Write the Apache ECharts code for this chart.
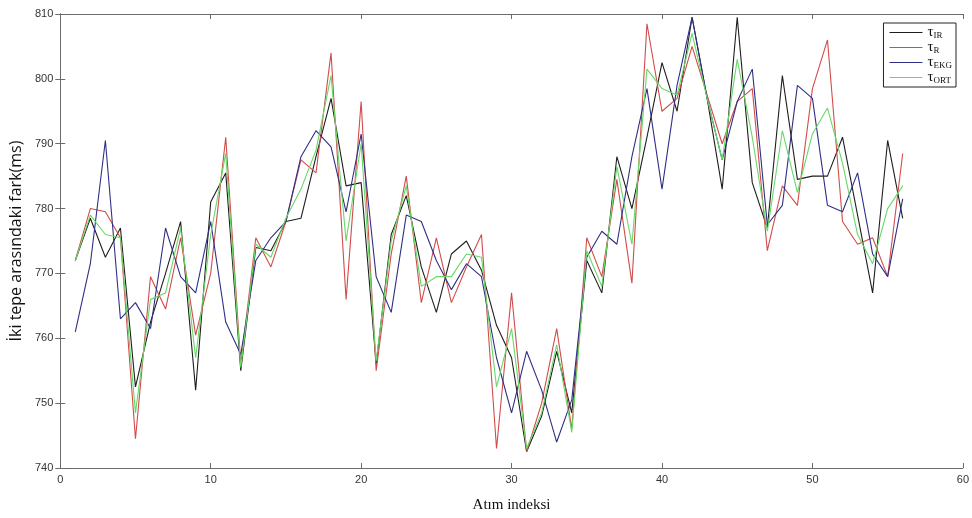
<!DOCTYPE html>
<html>
<head>
<meta charset="utf-8">
<script src="https://cdn.jsdelivr.net/npm/echarts@6/dist/echarts.min.js"></script>
<style>
    html, body { margin: 0; padding: 0; background: #fff; }
    #chart { width: 972px; height: 518px; }
</style>
</head>
<body>
<div id="chart"></div>
<script>
    // atım indeksleri 1..56
    var beats = [];
    for (var i = 1; i <= 56; i++) beats.push(i);

    var tauIR = [772, 778.5, 772.5, 777, 752.5, 762.5, 770, 778, 752, 781,
        785.5, 755, 774, 773.5, 778, 778.5, 788, 797, 783.5, 784,
        756, 776, 782, 771, 764, 773, 775, 770.5, 762, 757,
        742.5, 748, 758, 748.5, 772, 767, 788, 780, 791, 802.5,
        795, 809.5, 797, 783, 809.5, 784, 777, 800.5, 784.5, 785,
        785, 791, 779, 767, 790.5, 778.5];
    var tauR = [772, 780, 779.5, 775.5, 744.5, 769.5, 764.5, 775.5, 760.5, 770,
        791, 756, 775.5, 771, 778, 787.5, 785.5, 804, 766, 796.5,
        755, 773, 785, 765.5, 775.5, 765.5, 771, 776, 743, 767,
        742.5, 750, 761.5, 746, 775.5, 769.5, 784.5, 768.5, 808.5, 795,
        797, 805, 797.5, 790, 796.5, 798.5, 773.5, 783.5, 780.5, 798.5,
        806, 778, 774.5, 775.5, 769.5, 788.5];
    var tauEKG = [761, 771.5, 790.5, 763, 765.5, 761.5, 777, 769.5, 767, 778,
        762.5, 757.5, 772, 775.5, 778, 788, 792, 789.5, 779.5, 791.5,
        769.5, 764, 779, 778, 772, 767.5, 771.5, 769.5, 757, 748.5,
        758, 752, 744, 750.5, 772.5, 776.5, 774.5, 788, 798.5, 783,
        799, 809.5, 797, 787.5, 796.5, 801.5, 777.5, 780.5, 799, 797,
        780.5, 779.5, 785.5, 773, 769.5, 781.5];
    var tauORT = [772, 779, 776, 775.5, 748.5, 766, 767, 777, 757, 776,
        788.5, 755.5, 774.5, 772.5, 778.5, 783, 789, 800.5, 775, 790,
        756.5, 775, 783.5, 768, 769.5, 769.5, 773, 772.5, 752.5, 761.5,
        743, 748.5, 759, 745.5, 773.5, 768, 786.5, 774.5, 801.5, 798.5,
        797.5, 807, 797, 787.5, 803, 791, 776.5, 792, 782.5, 791.5,
        795.5, 787, 776, 771.5, 780, 783.5];

    var seriesNames = ['IR', 'R', 'EKG', 'ORT'];
    var seriesData = [tauIR, tauR, tauEKG, tauORT];
    var colors = ['#1e1e1e', '#d24b4b', '#2f2f85', '#66d966'];

    var myChart = echarts.init(document.getElementById('chart'));

    var axisLine = { show: true, lineStyle: { color: '#6b6b6b', width: 1 } };
    var tick = { show: true, inside: true, length: 5, lineStyle: { color: '#6b6b6b' } };

    myChart.setOption({
        animation: false,
        backgroundColor: '#fff',
        grid: { left: 60, right: 6, top: 14, bottom: 50 },
        legend: {
            orient: 'vertical',
            right: 16,
            top: 23,
            icon: 'rect',
            itemWidth: 33,
            itemHeight: 1.2,
            itemGap: 0,
            padding: [2, 4, 2, 6],
            borderColor: '#222',
            borderWidth: 1,
            backgroundColor: '#fff',
            formatter: function (name) {
                return '{t|τ}{s|' + name + '}';
            },
            textStyle: {
                lineHeight: 15,
                rich: {
                    t: { fontFamily: 'Liberation Serif', fontSize: 15, color: '#111', lineHeight: 15 },
                    s: { fontFamily: 'Liberation Serif', fontSize: 9, color: '#111', verticalAlign: 'bottom', lineHeight: 15, padding: [3, 0, 0, 0] }
                }
            },
            data: seriesNames
        },
        xAxis: [{
            type: 'value',
            min: 0, max: 60, interval: 10,
            name: 'Atım indeksi',
            nameLocation: 'middle',
            nameGap: 30,
            nameTextStyle: { fontFamily: 'Liberation Serif', fontSize: 15, color: '#111' },
            axisLine: axisLine,
            axisTick: tick,
            axisLabel: { color: '#333', fontSize: 11, fontFamily: 'Liberation Sans', margin: 6 },
            splitLine: { show: false }
        }, {
            type: 'value',
            position: 'top',
            min: 0, max: 60, interval: 10,
            axisLine: axisLine,
            axisTick: tick,
            axisLabel: { show: false },
            splitLine: { show: false }
        }],
        yAxis: [{
            type: 'value',
            min: 740, max: 810, interval: 10,
            name: 'İki tepe arasındaki fark(ms)',
            nameLocation: 'middle',
            nameGap: 31,
            nameTextStyle: { fontFamily: 'Open Sans', fontSize: 16, color: '#111' },
            axisLine: axisLine,
            axisTick: tick,
            axisLabel: { color: '#333', fontSize: 11, fontFamily: 'Liberation Sans', margin: 7 },
            splitLine: { show: false }
        }, {
            type: 'value',
            position: 'right',
            min: 740, max: 810, interval: 10,
            axisLine: axisLine,
            axisTick: tick,
            axisLabel: { show: false },
            splitLine: { show: false }
        }],
        series: seriesNames.map(function (n, k) {
            return {
                name: n,
                type: 'line',
                symbol: 'none',
                color: colors[k],
                lineStyle: { width: 1.1, color: colors[k] },
                data: beats.map(function (b, j) { return [b, seriesData[k][j]]; })
            };
        })
    });
</script>
</body>
</html>
